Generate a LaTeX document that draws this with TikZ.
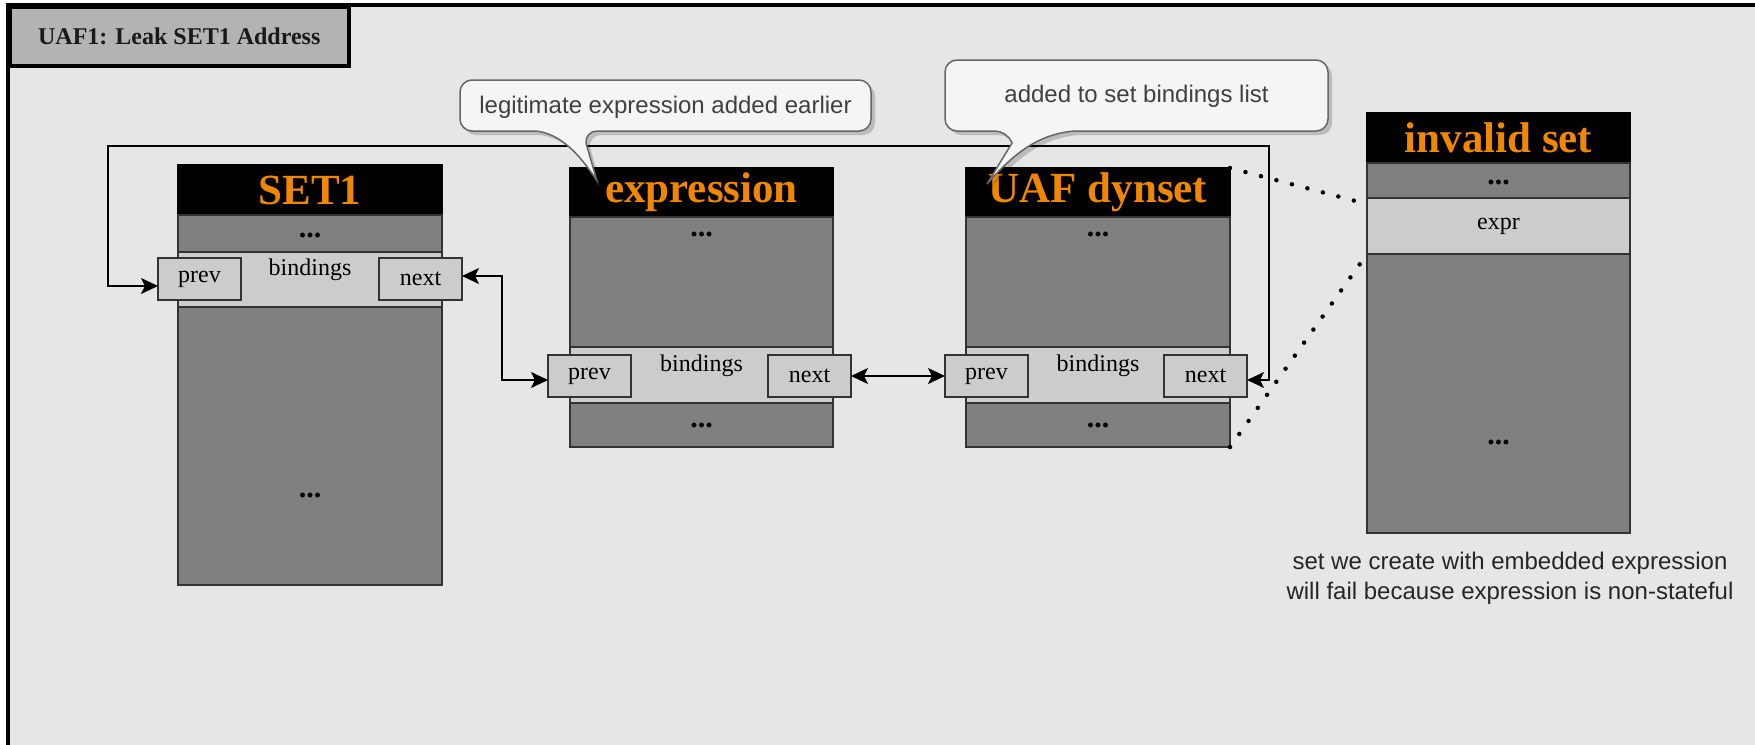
\documentclass[tikz,border=0pt]{standalone}
\usepackage{fontspec}
\setmainfont{Liberation Serif}
\newfontfamily\sansfont{Liberation Sans}
\usetikzlibrary{arrows.meta}

\definecolor{bgpanel}{HTML}{E6E6E6}
\definecolor{tabfill}{HTML}{B3B3B3}
\definecolor{memgray}{HTML}{808080}
\definecolor{rowlight}{HTML}{CCCCCC}
\definecolor{edgedark}{HTML}{333333}
\definecolor{hdrorange}{RGB}{240,135,0}
\definecolor{notefill}{HTML}{F5F5F5}
\definecolor{noteedge}{HTML}{666666}
\definecolor{notetext}{HTML}{404040}

\tikzset{
  cell/.style={draw=edgedark, line width=1.8pt, anchor=north west, inner sep=0pt, outer sep=0pt},
  hdr/.style={cell, fill=black, draw=black, text=hdrorange,
              font=\fontsize{43}{50}\selectfont\bfseries},
  graycell/.style={cell, fill=memgray},
  lightcell/.style={cell, fill=rowlight, font=\fontsize{24}{28}\selectfont},
  ptr/.style={cell, fill=rowlight, draw=edgedark, line width=2.2pt,
              minimum width=83pt, minimum height=42pt, font=\fontsize{24}{28}\selectfont},
  lbl/.style={font=\fontsize{24}{28}\selectfont, inner sep=0pt},
  ell/.style={font=\fontsize{30}{34}\selectfont\bfseries, inner sep=0pt},
  link/.style={line width=1.7pt,
               {Stealth[length=17pt,width=16pt,inset=4pt]}-{Stealth[length=17pt,width=16pt,inset=4pt]}},
  hint/.style={line width=4.5pt, line cap=round, dash pattern=on 0pt off 16pt},
  note/.style={fill=notefill, draw=noteedge, line width=1.5pt,
               preaction={fill=black, opacity=0.18, transform canvas={shift={(4pt,-4pt)}}}},
  notetxt/.style={font=\sansfont\fontsize{24}{28}\selectfont, text=notetext, inner sep=0pt},
}

\begin{document}
\begin{tikzpicture}[x=1pt, y=-1pt]
  \useasboundingbox (0,0) rectangle (1755,744);
  \fill[white] (0,0) rectangle (1755,744);
  % outer panel
  \draw[line width=4pt, fill=bgpanel] (8,5) rectangle (1800,748);
  % title tab
  \node[draw=black, line width=3.5pt, fill=tabfill, anchor=north west, inner sep=0pt,
        minimum width=339pt, minimum height=59pt,
        font=\fontsize{24}{28}\selectfont\bfseries, text=black!90] (title) at (8,5)
        {UAF1: Leak SET1 Address};

  % corner points of the ring link from UAF dynset back to SET1
  \coordinate (loopL) at (108,146);
  \coordinate (loopR) at (1269,146);

  % ---------- SET1 ----------
  \node[hdr, minimum width=264pt, minimum height=50pt] (shdr) at (178,165) {SET1};
  \node[graycell, minimum width=264pt, minimum height=37pt] (stop) at (178,215) {};
  \node[lightcell, minimum width=264pt, minimum height=55pt] (sbind) at (178,252) {};
  \node[graycell, minimum width=264pt, minimum height=278pt] (slow) at (178,307) {};
  \node[ell] (sdotsA) at (310,235) {...};
  \node[ell] (sdotsB) at (310,495) {...};
  \node[lbl] (sbl) at (310,270) {bindings};
  \node[ptr] (sprev) at (158,258) {prev};
  \node[ptr] (snext) at (379,258) {next};

  % ---------- expression ----------
  \node[hdr, minimum width=263pt, minimum height=49pt] (ehdr) at (570,168) {expression};
  \node[graycell, minimum width=263pt, minimum height=130pt] (etop) at (570,217) {};
  \node[lightcell, minimum width=263pt, minimum height=56pt] (ebind) at (570,347) {};
  \node[graycell, minimum width=263pt, minimum height=44pt] (elow) at (570,403) {};
  \node[ell] (edotsA) at (701.5,234) {...};
  \node[ell] (edotsB) at (701.5,425) {...};
  \node[lbl] (ebl) at (701.5,366) {bindings};
  \node[ptr] (eprev) at (548,355) {prev};
  \node[ptr] (enext) at (768,355) {next};

  % ---------- UAF dynset ----------
  \node[hdr, minimum width=264pt, minimum height=49pt] (uhdr) at (966,168) {UAF dynset};
  \node[graycell, minimum width=264pt, minimum height=130pt] (utop) at (966,217) {};
  \node[lightcell, minimum width=264pt, minimum height=56pt] (ubind) at (966,347) {};
  \node[graycell, minimum width=264pt, minimum height=44pt] (ulow) at (966,403) {};
  \node[ell] (udotsA) at (1098,234) {...};
  \node[ell] (udotsB) at (1098,425) {...};
  \node[lbl] (ubl) at (1098,366) {bindings};
  \node[ptr] (uprev) at (945,355) {prev};
  \node[ptr] (unext) at (1164,355) {next};

  % ---------- invalid set ----------
  \node[hdr, minimum width=263pt, minimum height=50pt] (ihdr) at (1367,113) {invalid set};
  \node[graycell, minimum width=263pt, minimum height=35pt] (itop) at (1367,163) {};
  \node[lightcell, minimum width=263pt, minimum height=56pt] (iexpr) at (1367,198) {expr};
  \node[graycell, minimum width=263pt, minimum height=279pt] (ilow) at (1367,254) {};
  \node[ell] (idotsA) at (1498.5,182) {...};
  \node[ell] (idotsB) at (1498.5,442) {...};
  \node[notetxt, align=center, text=black!85, font=\sansfont\fontsize{24}{30}\selectfont]
       (icap) at (1510,578)
       {set we create with embedded expression\\will fail because expression is non-stateful};

  % ---------- list links ----------
  \draw[link] ([yshift=-7pt]sprev.west) -| (loopL) -- (loopR) |- ([yshift=-4pt]unext.east);
  \draw[link] ([yshift=3pt]snext.east) -- ++(40,0) |- ([yshift=-4pt]eprev.west);
  \draw[link] (enext.east) -- (uprev.west);

  % ---------- overlap hints ----------
  \draw[hint] (uhdr.north east) -- ([yshift=-6pt]iexpr.north west);
  \draw[hint] (ulow.south east) -- (iexpr.south west);

  % ---------- notes ----------
  \draw[note] (597,181) .. controls (578,152) and (560,134) .. (536,131)
    [rounded corners=12pt] -- (460,131) -- (460,80) -- (871,80) -- (871,131) -- (585,131)
    [sharp corners] -- (586,143) -- cycle;
  \node[notetxt] (noteA) at (665.5,107.5) {legitimate expression added earlier};

  \draw[note] (987,184) .. controls (1010,158) and (1035,134) .. (1075,131)
    [rounded corners=12pt] -- (1328,131) -- (1328,60) -- (945,60) -- (945,131) -- (1007,131)
    [sharp corners] -- (1012,143) -- cycle;
  \node[notetxt] (noteB) at (1136.5,96.5) {added to set bindings list};
\end{tikzpicture}
\end{document}
